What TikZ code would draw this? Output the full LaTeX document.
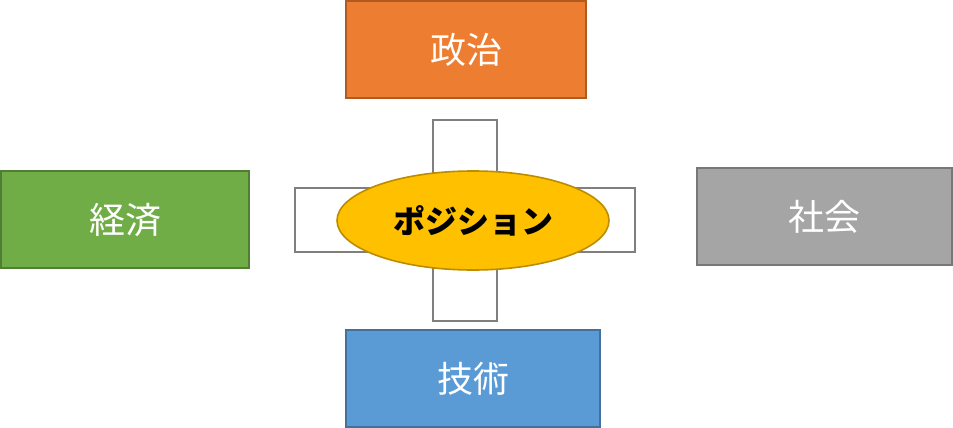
\documentclass[tikz,border=0pt]{standalone}
\usepackage{fontspec}
\newfontfamily\jp{Noto Sans CJK JP}
\usetikzlibrary{shapes.geometric}
\definecolor{orfill}{HTML}{ED7D31}\definecolor{ordraw}{HTML}{AE5A21}
\definecolor{grfill}{HTML}{70AD47}\definecolor{grdraw}{HTML}{507E32}
\definecolor{gyfill}{HTML}{A5A5A5}\definecolor{gydraw}{HTML}{787878}
\definecolor{blfill}{HTML}{5B9BD5}\definecolor{bldraw}{HTML}{41719C}
\definecolor{yefill}{HTML}{FFC000}\definecolor{yedraw}{HTML}{BC8C00}
\definecolor{crossdraw}{HTML}{7F7F7F}
\tikzset{
  catbox/.style={rectangle, line width=1.4pt, text=white, font=\jp\fontsize{27}{30}\selectfont, inner sep=0pt},
}
\begin{document}
\begin{tikzpicture}[x=0.75pt,y=-0.75pt]
\useasboundingbox (0,0) rectangle (953,428);
% cross
\draw[crossdraw, line width=1.4pt, fill=white]
  (433,120) -- (497,120) -- (497,188) -- (635,188) -- (635,252) -- (497,252)
  -- (497,321) -- (433,321) -- (433,252) -- (295,252) -- (295,188) -- (433,188) -- cycle;
% ellipse
\node[ellipse, draw=yedraw, fill=yefill, line width=1.2pt, minimum width=272*0.75pt, minimum height=99*0.75pt, inner sep=0pt, font=\jp\bfseries\fontsize{24}{28}\selectfont] (pos) at (473,220.5) {ポジション};
% boxes
\node[catbox, draw=ordraw, fill=orfill, minimum width=240*0.75pt, minimum height=97*0.75pt] (seiji) at (466,49.5) {政治};
\node[catbox, draw=grdraw, fill=grfill, minimum width=248*0.75pt, minimum height=97*0.75pt] (keizai) at (125,219.5) {経済};
\node[catbox, draw=gydraw, fill=gyfill, minimum width=255*0.75pt, minimum height=97*0.75pt] (shakai) at (824.5,216.5) {社会};
\node[catbox, draw=bldraw, fill=blfill, minimum width=254*0.75pt, minimum height=97*0.75pt] (gijutsu) at (473,378.5) {技術};
\end{tikzpicture}
\end{document}
